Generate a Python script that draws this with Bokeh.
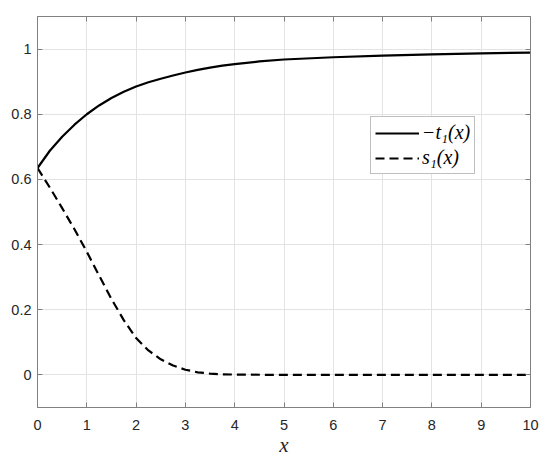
from bokeh.plotting import figure
from bokeh.models import Range1d, LinearAxis, Legend, LegendItem, FixedTicker
from bokeh.embed import file_html
from bokeh.resources import INLINE

# data
x_t = [0, 0.25, 0.5, 0.75, 1, 1.25, 1.5, 1.75, 2, 2.25, 2.5, 2.75, 3, 3.25, 3.5,
       3.75, 4, 4.5, 5, 6, 7, 8, 9, 10]
neg_t1 = [0.635, 0.688, 0.731, 0.768, 0.800, 0.827, 0.850, 0.869, 0.885, 0.898,
          0.909, 0.919, 0.928, 0.936, 0.943, 0.949, 0.954, 0.962, 0.968, 0.975,
          0.980, 0.984, 0.987, 0.989]
x_s = [0, 0.25, 0.5, 0.75, 1, 1.25, 1.5, 1.75, 2, 2.25, 2.5, 2.75, 3, 3.25, 3.5,
       3.75, 4, 5, 6, 7, 8, 9, 10]
s1 = [0.635, 0.575, 0.512, 0.447, 0.378, 0.305, 0.233, 0.168, 0.113, 0.075, 0.048,
      0.029, 0.016, 0.008, 0.004, 0.002, 0.001, 0.0, 0.0, 0.0, 0.0, 0.0, 0.0]
x_ticks = [0, 1, 2, 3, 4, 5, 6, 7, 8, 9, 10]
y_ticks = [0, 0.2, 0.4, 0.6, 0.8, 1]
y_tick_labels = {0: "0", 0.2: "0.2", 0.4: "0.4", 0.6: "0.6", 0.8: "0.8", 1: "1"}
series_labels = ["\u2212t\u2081(x)", "s\u2081(x)"]

AX = "#808080"
LBL = "#262626"
TICK_FONT = "Liberation Sans"

p = figure(width=550, height=462, output_backend="svg", toolbar_location=None,
           x_range=Range1d(0, 10), y_range=Range1d(-0.1, 1.1),
           min_border_left=37, min_border_right=20, min_border_top=16,
           min_border_bottom=55)
p.background_fill_color = "white"
p.border_fill_color = "white"
p.outline_line_color = AX

def style_axis(ax, ticks, labels=True):
    ax.ticker = FixedTicker(ticks=ticks)
    ax.axis_line_color = AX
    ax.major_tick_line_color = AX
    ax.major_tick_in = 5
    ax.major_tick_out = 0
    ax.minor_tick_line_color = None
    ax.major_label_text_font = TICK_FONT
    ax.major_label_text_font_size = "14.5px"
    ax.major_label_text_color = LBL
    if not labels:
        ax.major_label_overrides = {t: "" for t in ticks}
        ax.major_label_standoff = 0

style_axis(p.xaxis[0], x_ticks)
p.xaxis[0].major_label_standoff = 12
style_axis(p.yaxis[0], y_ticks)
p.yaxis[0].major_label_overrides = y_tick_labels
p.yaxis[0].major_label_standoff = 6

p.xaxis[0].axis_label = "x"
p.xaxis[0].axis_label_text_font = "Liberation Serif"
p.xaxis[0].axis_label_text_font_style = "italic"
p.xaxis[0].axis_label_text_font_size = "21px"
p.xaxis[0].axis_label_text_color = LBL
p.xaxis[0].axis_label_standoff = 0

top = LinearAxis()
style_axis(top, x_ticks, labels=False)
p.add_layout(top, "above")
right = LinearAxis()
style_axis(right, y_ticks, labels=False)
p.add_layout(right, "right")

p.xgrid.ticker = FixedTicker(ticks=x_ticks)
p.ygrid.ticker = FixedTicker(ticks=y_ticks)
p.grid.grid_line_color = "#e3e3e3"
p.grid.grid_line_width = 1

r1 = p.line(x_t, neg_t1, line_color="black", line_width=2.2, line_join="round")
r2 = p.line(x_s, s1, line_color="black", line_width=2.2, line_dash="9 5",
            line_join="round")

legend = Legend(items=[LegendItem(label=series_labels[0], renderers=[r1]),
                       LegendItem(label=series_labels[1], renderers=[r2])],
                location=(333, 233))
legend.label_text_font = "Liberation Serif"
legend.label_text_font_style = "italic"
legend.label_text_font_size = "20px"
legend.label_text_color = "black"
legend.glyph_width = 44
legend.glyph_height = 22
legend.label_height = 22
legend.label_standoff = 3
legend.spacing = 2
legend.padding = 4
legend.margin = 0
legend.border_line_color = AX
legend.border_line_width = 1
legend.background_fill_color = "white"
legend.background_fill_alpha = 1
p.add_layout(legend, "center")

open("out.html", "w").write(file_html(p, INLINE))
